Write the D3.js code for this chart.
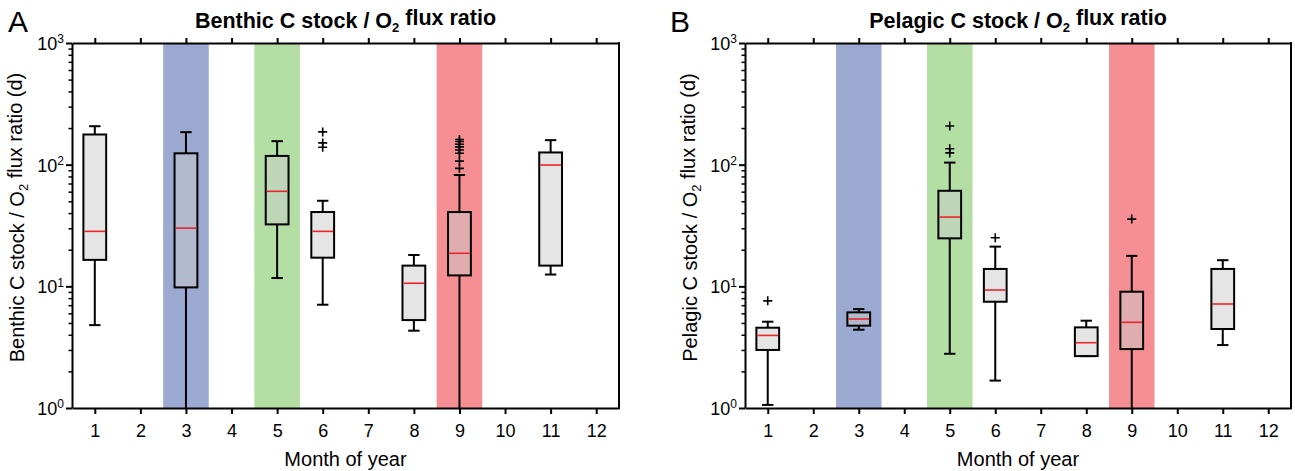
<!DOCTYPE html>
<html>
<head>
<meta charset="utf-8">
<script src="https://cdn.jsdelivr.net/npm/d3@7"></script>
<style>
  body { margin: 0; background: #fff; }
  svg { display: block; font-family: "Liberation Sans", Arial, sans-serif; }
</style>
</head>
<body>
<svg id="chart" width="1295" height="471"></svg>
<script>
'use strict';

// months that have data (same for both panels)
const months = [1, 3, 5, 6, 8, 9, 11];
const monthTicks = [1, 2, 3, 4, 5, 6, 7, 8, 9, 10, 11, 12];

// seasonal shading
const seasonMonths = [3, 5, 9];
const seasonColors = ['#9ca9d1', '#b3dea4', '#f58f93'];

// Benthic C stock / O2 flux ratio (d)
const benthicLow  = [4.8, 0.5, 11.7, 7.06, 4.32, 0.5, 12.5];
const benthicQ1   = [16.5, 9.8, 32.3, 17.2, 5.28, 12.3, 14.8];
const benthicMed  = [28.3, 30.1, 60.4, 28.3, 10.6, 18.7, 99.3];
const benthicQ3   = [177, 124, 118, 40.8, 14.8, 40.8, 126];
const benthicHigh = [207, 185, 156, 50.5, 18.1, 82.2, 159];
const benthicOut  = [[], [], [], [186, 151, 139], [], [93.3, 107, 124, 132, 140, 147, 155, 161], []];

// Pelagic C stock / O2 flux ratio (d)
const pelagicLow  = [1.06, 4.4, 2.79, 1.68, 2.67, 0.5, 3.29];
const pelagicQ1   = [3.0, 4.75, 24.8, 7.47, 2.67, 3.05, 4.46];
const pelagicMed  = [3.95, 5.39, 37.1, 9.33, 3.44, 5.06, 7.16];
const pelagicQ3   = [4.57, 6.11, 61, 13.9, 4.6, 9.03, 13.9];
const pelagicHigh = [5.12, 6.5, 104, 21.2, 5.22, 17.8, 16.4];
const pelagicOut  = [[7.6], [], [208, 135, 125], [25.1], [], [35.7], []];

const majorTicks = [1, 10, 100, 1000];
const minorTicks = [];
[1, 10, 100].forEach(d => { for (let k = 2; k <= 9; k++) minorTicks.push(d * k); });

const svg = d3.select('#chart');

const buildRows = (low, q1, med, q3, high, out) =>
  months.map((m, i) => ({ month: m, low: low[i], q1: q1[i], med: med[i], q3: q3[i], high: high[i], out: out[i] }));

const drawPanel = (opt) => {
  const x = d3.scaleLinear().domain([0.5, 12.5]).range([opt.left, opt.right]);
  const y = d3.scaleLog().domain([1, 1000]).range([408, 43]);
  const g = svg.append('g');
  const step = x(2) - x(1);

  const clipId = 'clip' + opt.letter;
  g.append('clipPath').attr('id', clipId)
    .append('rect')
    .attr('x', opt.left).attr('y', y(1000))
    .attr('width', opt.right - opt.left).attr('height', y(1) - y(1000));

  const plot = g.append('g').attr('clip-path', `url(#${clipId})`);

  // season bands
  plot.selectAll('rect.band')
    .data(seasonMonths)
    .enter().append('rect')
    .attr('class', 'band')
    .attr('x', d => x(d - 0.5))
    .attr('width', step)
    .attr('y', y(1000))
    .attr('height', y(1) - y(1000))
    .attr('fill', (d, i) => seasonColors[i]);

  const boxW = step * 0.5;
  const capW = step * 0.25;
  const box = plot.selectAll('g.box')
    .data(opt.rows)
    .enter().append('g')
    .attr('class', 'box');

  // whiskers
  box.append('line')
    .attr('x1', d => x(d.month)).attr('x2', d => x(d.month))
    .attr('y1', d => y(d.q3)).attr('y2', d => y(d.high))
    .attr('stroke', '#000').attr('stroke-width', 2);
  box.append('line')
    .attr('x1', d => x(d.month)).attr('x2', d => x(d.month))
    .attr('y1', d => y(d.q1)).attr('y2', d => y(d.low))
    .attr('stroke', '#000').attr('stroke-width', 2);
  box.append('line')
    .attr('x1', d => x(d.month) - capW / 2).attr('x2', d => x(d.month) + capW / 2)
    .attr('y1', d => y(d.high)).attr('y2', d => y(d.high))
    .attr('stroke', '#000').attr('stroke-width', 2);
  box.append('line')
    .attr('x1', d => x(d.month) - capW / 2).attr('x2', d => x(d.month) + capW / 2)
    .attr('y1', d => y(d.low)).attr('y2', d => y(d.low))
    .attr('stroke', '#000').attr('stroke-width', 2);

  // boxes
  box.append('rect')
    .attr('x', d => x(d.month) - boxW / 2)
    .attr('width', boxW)
    .attr('y', d => y(d.q3))
    .attr('height', d => y(d.q1) - y(d.q3))
    .attr('fill', '#cccccc').attr('fill-opacity', 0.5)
    .attr('stroke', '#000').attr('stroke-width', 2);

  // medians
  box.append('line')
    .attr('x1', d => x(d.month) - boxW / 2 + 1).attr('x2', d => x(d.month) + boxW / 2 - 1)
    .attr('y1', d => y(d.med)).attr('y2', d => y(d.med))
    .attr('stroke', '#e8262c').attr('stroke-width', 1.6);

  // outliers
  box.each(function(d) {
    const s = 4.5;
    d3.select(this).selectAll('path.out')
      .data(d.out)
      .enter().append('path')
      .attr('class', 'out')
      .attr('d', v => {
        const cx = x(d.month), cy = y(v);
        return `M${cx - s},${cy}H${cx + s}M${cx},${cy - s}V${cy + s}`;
      })
      .attr('stroke', '#000').attr('stroke-width', 1.6).attr('fill', 'none');
  });

  // axes
  const styleAxis = (sel) => {
    sel.selectAll('path.domain').attr('stroke-width', 2);
    sel.selectAll('.tick line').attr('stroke-width', 2);
  };

  const left = g.append('g')
    .attr('transform', `translate(${opt.left},0)`)
    .call(d3.axisLeft(y).tickValues(majorTicks).tickSize(6).tickSizeOuter(0).tickFormat(''));
  styleAxis(left);
  left.selectAll('.tick').append('text')
    .attr('x', -8).attr('dy', '0.36em')
    .attr('text-anchor', 'end')
    .attr('fill', '#000')
    .style('font-size', '18px')
    .each(function(d) {
      const t = d3.select(this);
      t.append('tspan').text('10');
      t.append('tspan').attr('dy', '-0.55em').style('font-size', '12px').text(Math.round(Math.log10(d)));
    });

  g.append('g')
    .attr('transform', `translate(${opt.left},0)`)
    .call(d3.axisLeft(y).tickValues(minorTicks).tickSize(3.5).tickSizeOuter(0).tickFormat(''))
    .call(s => s.select('path.domain').remove())
    .selectAll('.tick line').attr('stroke-width', 1.5);

  const bottom = g.append('g')
    .attr('transform', `translate(0,${y(1)})`)
    .call(d3.axisBottom(x).tickValues(monthTicks).tickSize(6).tickSizeOuter(0).tickPadding(10).tickFormat(d3.format('d')));
  styleAxis(bottom);
  bottom.selectAll('.tick text').style('font-size', '18px').attr('fill', '#000');

  const top = g.append('g')
    .attr('transform', `translate(0,${y(1000)})`)
    .call(d3.axisTop(x).tickValues(monthTicks).tickSize(5).tickSizeOuter(0).tickFormat(''));
  styleAxis(top);

  g.append('line')
    .attr('x1', opt.right).attr('x2', opt.right)
    .attr('y1', y(1000) - 1).attr('y2', y(1) + 1)
    .attr('stroke', '#000').attr('stroke-width', 2);

  // labels
  const cx = (opt.left + opt.right) / 2;
  const title = g.append('text')
    .attr('x', cx).attr('y', 28)
    .attr('text-anchor', 'middle')
    .style('font-size', '21.5px').style('font-weight', 'bold');
  title.append('tspan').text(opt.name + ' C stock / O');
  title.append('tspan').attr('dy', '0.3em').style('font-size', '13px').text('2');
  title.append('tspan').attr('dy', '-0.3em').text(' flux ratio');

  g.append('text')
    .attr('x', cx).attr('y', 466)
    .attr('text-anchor', 'middle')
    .style('font-size', '20px')
    .text('Month of year');

  const ylab = g.append('text')
    .attr('transform', `translate(${opt.left - 48},${(y(1) + y(1000)) / 2 - 8}) rotate(-90)`)
    .attr('text-anchor', 'middle')
    .style('font-size', '20px');
  ylab.append('tspan').text(opt.name + ' C stock / O');
  ylab.append('tspan').attr('dy', '0.3em').style('font-size', '13px').text('2');
  ylab.append('tspan').attr('dy', '-0.3em').text(' flux ratio (d)');

  g.append('text')
    .attr('x', opt.letterX).attr('y', 32)
    .style('font-size', '30px')
    .text(opt.letter);
};

drawPanel({
  letter: 'A', letterX: 8, name: 'Benthic', left: 72, right: 619,
  rows: buildRows(benthicLow, benthicQ1, benthicMed, benthicQ3, benthicHigh, benthicOut)
});
drawPanel({
  letter: 'B', letterX: 670, name: 'Pelagic', left: 745, right: 1291,
  rows: buildRows(pelagicLow, pelagicQ1, pelagicMed, pelagicQ3, pelagicHigh, pelagicOut)
});
</script>
</body>
</html>
